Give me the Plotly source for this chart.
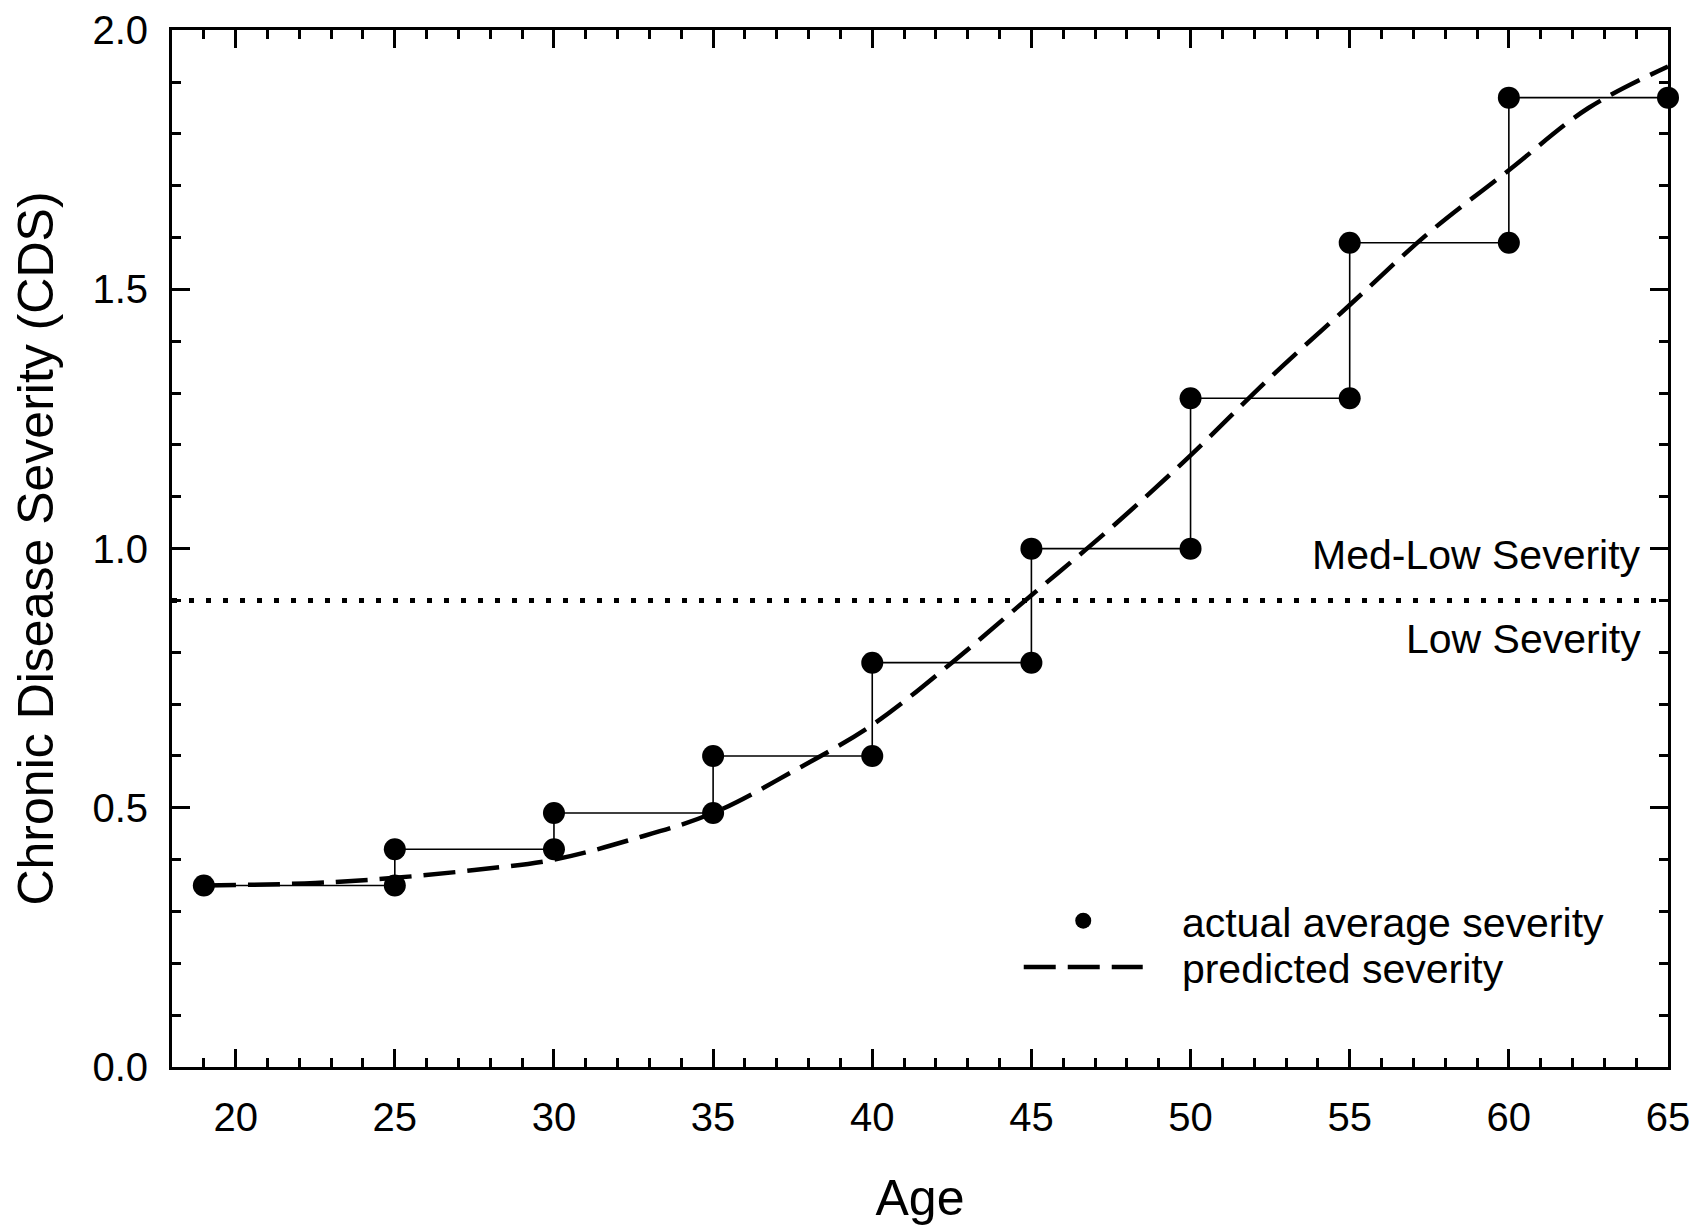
import plotly.graph_objects as go

# actual average severity (step path through points)
actual_age = [19, 25, 25, 30, 30, 35, 35, 40, 40, 45, 45, 50, 50, 55, 55, 60, 60, 65]
actual_cds = [0.35, 0.35, 0.42, 0.42, 0.49, 0.49, 0.60, 0.60, 0.78, 0.78,
              1.00, 1.00, 1.29, 1.29, 1.59, 1.59, 1.87, 1.87]

# predicted severity curve
pred_age = [19, 22.5, 25, 27.5, 30, 32.5, 35, 37.5, 40, 42.5, 45, 47.5,
            50, 52.5, 55, 57.5, 60, 62.5, 65]
pred_cds = [0.35, 0.355, 0.365, 0.38, 0.40, 0.44, 0.49, 0.57, 0.66, 0.78,
            0.91, 1.04, 1.18, 1.33, 1.47, 1.61, 1.73, 1.85, 1.93]

threshold_age = [18, 65]
threshold_cds = [0.9, 0.9]

x_ticks = [20, 25, 30, 35, 40, 45, 50, 55, 60, 65]
y_ticks = [0.0, 0.5, 1.0, 1.5, 2.0]
y_ticklabels = ["0.0", "0.5", "1.0", "1.5", "2.0"]

FONT = "Liberation Sans, Arial, sans-serif"
GAP = "\u00a0\u00a0\u00a0"

fig = go.Figure()

fig.add_trace(go.Scatter(
    x=threshold_age, y=threshold_cds, mode="lines",
    line=dict(color="black", width=5, dash="5px,12px"),
    showlegend=False, hoverinfo="skip"))

fig.add_trace(go.Scatter(
    x=actual_age, y=actual_cds, mode="lines",
    line=dict(color="black", width=1.6),
    showlegend=False, hoverinfo="skip"))

fig.add_trace(go.Scatter(
    x=actual_age, y=actual_cds, mode="markers",
    marker=dict(color="black", size=22),
    name=GAP + "actual average severity", cliponaxis=False, legend="legend"))

fig.add_trace(go.Scatter(
    x=pred_age, y=pred_cds, mode="lines",
    line=dict(color="black", width=4.5, dash="32px,12px", shape="spline"),
    name=GAP + "predicted severity", legend="legend2"))

fig.add_annotation(text="Med-Low Severity", xref="paper", yref="y",
                   x=0.983, y=0.988, xanchor="right", yanchor="middle",
                   showarrow=False, font=dict(family=FONT, size=41, color="black"))
fig.add_annotation(text="Low Severity", xref="paper", yref="y",
                   x=0.983, y=0.8266, xanchor="right", yanchor="middle",
                   showarrow=False, font=dict(family=FONT, size=41, color="black"))

axis_common = dict(
    showline=True, linecolor="black", linewidth=3, mirror="ticks",
    ticks="inside", tickcolor="black", tickwidth=2.5, ticklen=18,
    showgrid=False, zeroline=False, automargin=False,
    tickfont=dict(family=FONT, size=40, color="black"),
)

fig.update_xaxes(
    range=[18, 65.0001], tickvals=x_ticks,
    minor=dict(ticks="inside", dtick=1, ticklen=9, tickwidth=2.5, tickcolor="black", showgrid=False),
    title=dict(text="Age", font=dict(family=FONT, size=50, color="black"), standoff=42),
    ticklabelstandoff=13, ticklabeloverflow="allow",
    **axis_common)

fig.update_yaxes(
    range=[0, 2.0005], tickvals=y_ticks, ticktext=y_ticklabels,
    minor=dict(ticks="inside", dtick=0.1, ticklen=9, tickwidth=2.5, tickcolor="black", showgrid=False),
    title=dict(text="Chronic Disease Severity (CDS)", font=dict(family=FONT, size=50, color="black"), standoff=51),
    ticklabelstandoff=13, ticklabeloverflow="allow",
    **axis_common)

leg_common = dict(xanchor="left", yanchor="middle",
                  font=dict(family=FONT, size=41, color="black"),
                  bgcolor="rgba(0,0,0,0)", itemwidth=119, borderwidth=0)

fig.update_layout(
    width=1689, height=1224,
    margin=dict(l=164, r=29, t=22, b=165, autoexpand=False),
    plot_bgcolor="white", paper_bgcolor="white",
    font=dict(family=FONT, color="black"),
    legend=dict(x=0.566, y=0.1408, **leg_common),
    legend2=dict(x=0.566, y=0.0961, **leg_common),
)

fig.write_html("out.html")
